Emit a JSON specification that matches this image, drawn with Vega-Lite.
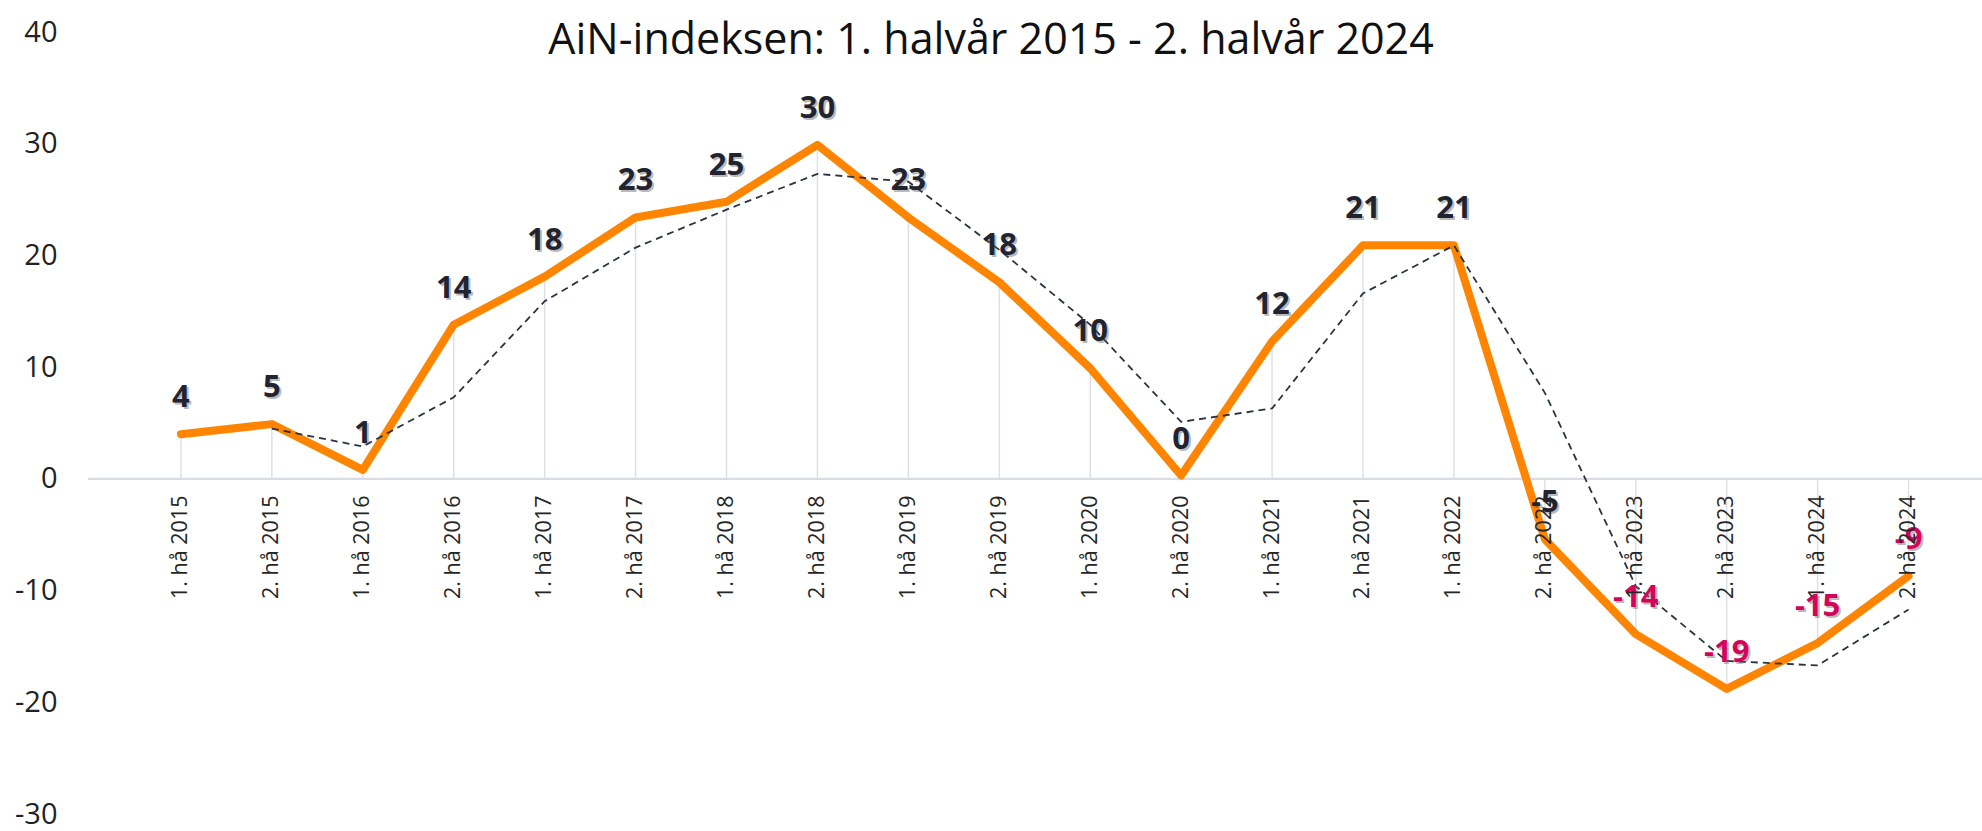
{
  "$schema": "https://vega.github.io/schema/vega-lite/v6.json",
  "width": 1894,
  "height": 782,
  "autosize": {"type": "none"},
  "padding": {"left": 88, "top": 32, "right": 0, "bottom": 17},
  "background": "white",
  "config": {
    "view": {"stroke": null},
    "font": "Open Sans",
    "locale": {
      "number": {"decimal": ".", "thousands": " ", "grouping": [3], "currency": ["", " kr"], "minus": "-"}
    }
  },
  "title": {
    "text": "AiN-indeksen: 1. halvår 2015 - 2. halvår 2024",
    "font": "Open Sans",
    "fontSize": 43,
    "fontWeight": "normal",
    "color": "#111111",
    "anchor": "middle",
    "frame": "group",
    "dx": -44,
    "baseline": "alphabetic",
    "offset": -79
  },
  "data": {
    "values": [
      {"period": "1. hå 2015", "index": 4.0, "avg": null},
      {"period": "2. hå 2015", "index": 4.9, "avg": 4.5},
      {"period": "1. hå 2016", "index": 0.8, "avg": 2.9},
      {"period": "2. hå 2016", "index": 13.8, "avg": 7.3},
      {"period": "1. hå 2017", "index": 18.1, "avg": 15.9},
      {"period": "2. hå 2017", "index": 23.4, "avg": 20.7},
      {"period": "1. hå 2018", "index": 24.8, "avg": 24.1},
      {"period": "2. hå 2018", "index": 29.9, "avg": 27.3},
      {"period": "1. hå 2019", "index": 23.4, "avg": 26.6},
      {"period": "2. hå 2019", "index": 17.6, "avg": 20.5},
      {"period": "1. hå 2020", "index": 9.9, "avg": 13.8},
      {"period": "2. hå 2020", "index": 0.3, "avg": 5.1},
      {"period": "1. hå 2021", "index": 12.3, "avg": 6.3},
      {"period": "2. hå 2021", "index": 20.9, "avg": 16.6},
      {"period": "1. hå 2022", "index": 20.9, "avg": 20.9},
      {"period": "2. hå 2022", "index": -5.4, "avg": 7.7},
      {"period": "1. hå 2023", "index": -13.9, "avg": -9.6},
      {"period": "2. hå 2023", "index": -18.8, "avg": -16.3},
      {"period": "1. hå 2024", "index": -14.7, "avg": -16.7},
      {"period": "2. hå 2024", "index": -8.7, "avg": -11.7}
    ]
  },
  "resolve": {"scale": {"y": "shared"}},
  "layer": [
    {
      "mark": {"type": "rule", "color": "#dde1e7", "strokeWidth": 1.5},
      "encoding": {
        "x": {
          "field": "period", "type": "ordinal", "sort": null,
          "scale": {"type": "point", "range": [47.5, 1866]},
          "axis": {
            "title": null,
            "labelAngle": -90,
            "labelFont": "Open Sans",
            "labelFontSize": 21.5,
            "labelColor": "#262626",
            "labelPadding": 16,
            "ticks": false,
            "domain": false,
            "grid": false,
            "offset": -335,
            "zindex": 1
          }
        },
        "y": {
          "field": "index", "type": "quantitative",
          "scale": {"domain": [-30, 40], "nice": false, "zero": false},
          "axis": {
            "title": null,
            "values": [-30, -20, -10, 0, 10, 20, 30, 40],
            "grid": false,
            "domain": false,
            "ticks": false,
            "labelFont": "Open Sans",
            "labelFontSize": 29,
            "labelColor": "#222222",
            "labelPadding": 31
          }
        },
        "y2": {"datum": 0}
      }
    },
    {
      "data": {"values": [{"level": 0}]},
      "mark": {"type": "rule", "color": "#d9dde3", "strokeWidth": 2.2},
      "encoding": {"y": {"field": "level", "type": "quantitative"}}
    },
    {
      "mark": {"type": "line", "color": "#ff8500", "strokeWidth": 8, "strokeJoin": "round", "strokeCap": "round"},
      "encoding": {
        "x": {"field": "period", "type": "ordinal", "sort": null},
        "y": {"field": "index", "type": "quantitative"}
      }
    },
    {
      "transform": [{"filter": "datum.avg != null"}],
      "mark": {"type": "line", "color": "#2b3340", "strokeWidth": 1.8, "strokeDash": [7, 5]},
      "encoding": {
        "x": {"field": "period", "type": "ordinal", "sort": null},
        "y": {"field": "avg", "type": "quantitative"}
      }
    },
    {
      "mark": {"type": "text", "font": "Open Sans", "fontSize": 31, "fontWeight": "bold", "color": "#555555", "opacity": 0.4, "dx": 2, "dy": -34},
      "encoding": {
        "x": {"field": "period", "type": "ordinal", "sort": null},
        "y": {"field": "index", "type": "quantitative"},
        "text": {"field": "index", "type": "quantitative", "format": ".0f"}
      }
    },
    {
      "mark": {"type": "text", "font": "Open Sans", "fontSize": 31, "fontWeight": "bold", "dy": -36},
      "encoding": {
        "x": {"field": "period", "type": "ordinal", "sort": null},
        "y": {"field": "index", "type": "quantitative"},
        "text": {"field": "index", "type": "quantitative", "format": ".0f"},
        "color": {
          "condition": {"test": "datum.index < -6", "value": "#d4045c"},
          "value": "#1f2430"
        }
      }
    }
  ]
}
